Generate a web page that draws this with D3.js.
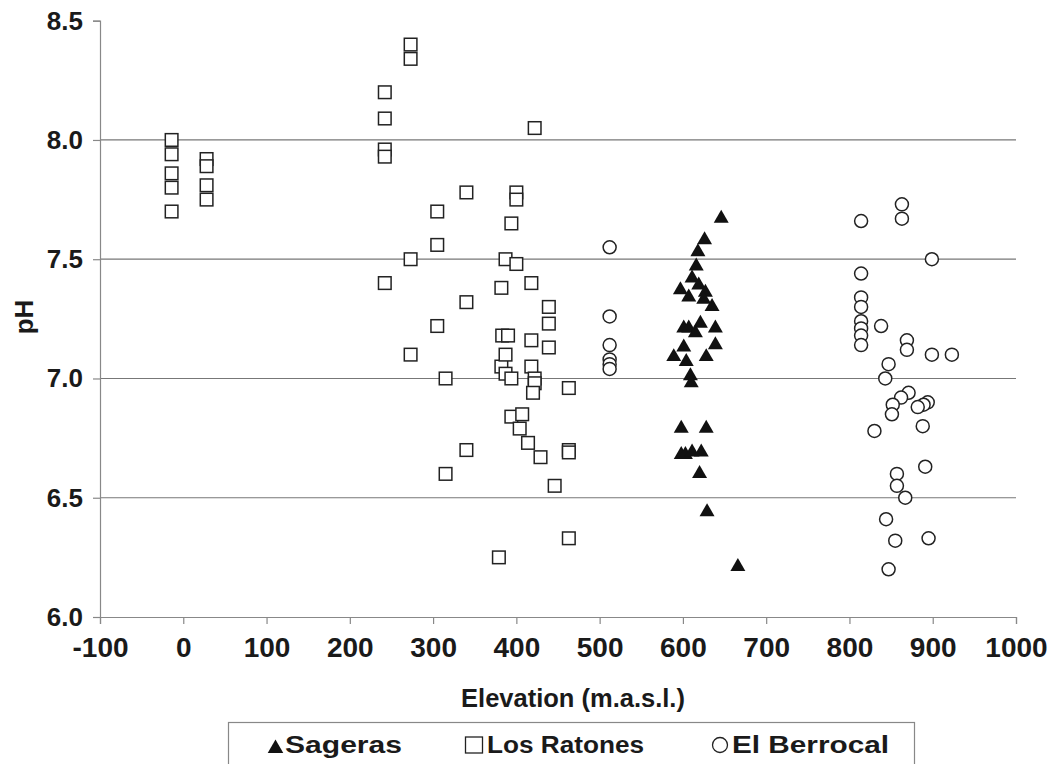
<!DOCTYPE html>
<html>
<head>
<meta charset="utf-8">
<script src="https://cdn.jsdelivr.net/npm/d3@7/dist/d3.min.js"></script>
<style>
  body { margin: 0; background: #fff; }
  text { font-family: "Liberation Sans", Arial, sans-serif; font-weight: bold; fill: #1a1a1a; }
</style>
</head>
<body>
<div id="chart"></div>
<script>
// data: [elevation, pH]
const sageras = [
    [646, 7.68], [626, 7.59], [618, 7.54], [616, 7.48], [611, 7.43], [619, 7.40],
    [597, 7.38], [627, 7.37], [607, 7.35], [625, 7.34], [635, 7.31], [601, 7.22],
    [607, 7.22], [621, 7.24], [639, 7.22], [615, 7.20], [639, 7.15], [601, 7.14],
    [589, 7.10], [604, 7.08], [628, 7.10], [609, 7.02], [610, 6.99], [598, 6.80],
    [628, 6.80], [598, 6.69], [603, 6.69], [611, 6.70], [622, 6.70], [620, 6.61],
    [629, 6.45], [666, 6.22]
];
const losRatones = [
    [-14, 8.00], [-14, 7.94], [-14, 7.86], [-14, 7.80], [-14, 7.70],
    [28, 7.92], [28, 7.89], [28, 7.81], [28, 7.75],
    [242, 8.20], [242, 8.09], [242, 7.96], [242, 7.93], [242, 7.40],
    [273, 8.40], [273, 8.34], [273, 7.50], [273, 7.10],
    [305, 7.70], [305, 7.56], [305, 7.22],
    [315, 7.00], [315, 6.60],
    [340, 7.78], [340, 7.32], [340, 6.70],
    [382, 7.38], [382, 7.05], [379, 6.25],
    [383, 7.18], [390, 7.18],
    [387, 7.50], [387, 7.10], [387, 7.02],
    [394, 7.65], [394, 7.00], [394, 6.84],
    [400, 7.78], [400, 7.75], [400, 7.48],
    [407, 6.85], [404, 6.79], [414, 6.73],
    [418, 7.40], [418, 7.16], [418, 7.05],
    [422, 8.05], [422, 7.00], [422, 6.98], [420, 6.94],
    [429, 6.67],
    [439, 7.30], [439, 7.23], [439, 7.13],
    [446, 6.55],
    [463, 6.96], [463, 6.70], [463, 6.69], [463, 6.33]
];
const elBerrocal = [
    [512, 7.55], [512, 7.26], [512, 7.14], [512, 7.08], [512, 7.06], [512, 7.04],
    [814, 7.66], [814, 7.44], [814, 7.34], [814, 7.30], [814, 7.24], [814, 7.21],
    [814, 7.18], [814, 7.14],
    [863, 7.73], [863, 7.67], [899, 7.50], [838, 7.22], [869, 7.16], [869, 7.12],
    [899, 7.10], [923, 7.10], [847, 7.06], [843, 7.00], [871, 6.94], [862, 6.92],
    [852, 6.89], [851, 6.85], [894, 6.90], [889, 6.89], [882, 6.88], [830, 6.78],
    [888, 6.80], [891, 6.63], [857, 6.60], [857, 6.55], [867, 6.50], [844, 6.41],
    [855, 6.32], [895, 6.33], [847, 6.20]
];
const xTicks = [-100, 0, 100, 200, 300, 400, 500, 600, 700, 800, 900, 1000];
const yTicks = [6.0, 6.5, 7.0, 7.5, 8.0, 8.5];
const seriesNames = ['Sageras', 'Los Ratones', 'El Berrocal'];

// size
const width = 1053,
    height = 764;

const svg = d3.select('#chart')
    .append('svg')
    .attr('width', width)
    .attr('height', height);

const x = d3.scaleLinear().domain([-100, 1000]).range([100, 1016]);
const y = d3.scaleLinear().domain([6, 8.5]).range([617, 20.7]);

// gridlines
svg.append('g')
    .selectAll('line')
    .data(yTicks.filter(d => d > 6 && d < 8.5))
    .enter()
    .append('line')
    .attr('x1', x(-100))
    .attr('x2', x(1000))
    .attr('y1', d => y(d))
    .attr('y2', d => y(d))
    .attr('stroke', '#777')
    .attr('stroke-width', 1.2);

// axes
const xAxis = svg.append('g')
    .attr('transform', `translate(0,${y(6)})`)
    .call(d3.axisBottom(x).tickValues(xTicks).tickSize(7).tickPadding(13).tickFormat(d => String(d)));
const yAxis = svg.append('g')
    .attr('transform', `translate(${x(-100)},0)`)
    .call(d3.axisLeft(y).tickValues(yTicks).tickSize(7).tickPadding(10).tickFormat(d3.format('.1f')));

[xAxis, yAxis].forEach(a => {
    a.select('.domain').attr('stroke', '#888').attr('stroke-width', 1.2);
    a.selectAll('.tick line').attr('stroke', '#888').attr('stroke-width', 1.2);
    a.selectAll('.tick text').attr('fill', '#1a1a1a');
});
xAxis.selectAll('.tick text').style('font-size', '28px');
yAxis.selectAll('.tick text').style('font-size', '26px');

// axis titles
svg.append('text')
    .attr('x', 573)
    .attr('y', 707)
    .attr('text-anchor', 'middle')
    .style('font-size', '25.5px')
    .text('Elevation (m.a.s.l.)');

svg.append('text')
    .attr('transform', 'translate(33,317) rotate(-90)')
    .attr('text-anchor', 'middle')
    .style('font-size', '26px')
    .text('pH');

// markers
const triSize = 97;
const triOff = Math.sqrt(triSize / (3 * Math.sqrt(3))) / 2; // bbox centre offset

svg.append('g')
    .selectAll('path')
    .data(sageras)
    .enter()
    .append('path')
    .attr('d', d3.symbol().type(d3.symbolTriangle).size(triSize))
    .attr('transform', d => `translate(${x(d[0])},${y(d[1]) + triOff})`)
    .attr('fill', '#111');

svg.append('g')
    .selectAll('rect')
    .data(losRatones)
    .enter()
    .append('rect')
    .attr('x', d => x(d[0]) - 6.3)
    .attr('y', d => y(d[1]) - 6.3)
    .attr('width', 12.6)
    .attr('height', 12.6)
    .attr('fill', '#fff')
    .attr('stroke', '#222')
    .attr('stroke-width', 1.5);

svg.append('g')
    .selectAll('circle')
    .data(elBerrocal)
    .enter()
    .append('circle')
    .attr('cx', d => x(d[0]))
    .attr('cy', d => y(d[1]))
    .attr('r', 6.5)
    .attr('fill', '#fff')
    .attr('stroke', '#222')
    .attr('stroke-width', 1.5);

// legend
const legend = svg.append('g');
legend.append('rect')
    .attr('x', 228.5)
    .attr('y', 722.5)
    .attr('width', 686)
    .attr('height', 60)
    .attr('fill', '#fff')
    .attr('stroke', '#888')
    .attr('stroke-width', 1.2);

// symbol centre x, text start, text width
const legendX = [275.5, 474, 720];
const legendTextX = [285, 487, 732];
const legendTextW = [117, 157, 157];
const baseY = 753;

const items = legend.selectAll('.item')
    .data(seriesNames)
    .enter()
    .append('g')
    .attr('class', 'item');

items.each(function (d, i) {
    const g = d3.select(this);
    if (i === 0) {
        g.append('path')
            .attr('d', d3.symbol().type(d3.symbolTriangle).size(105))
            .attr('transform', `translate(${legendX[i]},${baseY - 4.5})`)
            .attr('fill', '#111');
    } else if (i === 1) {
        g.append('rect')
            .attr('x', legendX[i] - 8.5).attr('y', baseY - 16)
            .attr('width', 17).attr('height', 16)
            .attr('fill', '#fff').attr('stroke', '#222').attr('stroke-width', 1.3);
    } else {
        g.append('circle')
            .attr('cx', legendX[i]).attr('cy', baseY - 8)
            .attr('r', 7.5)
            .attr('fill', '#fff').attr('stroke', '#222').attr('stroke-width', 1.3);
    }
    g.append('text')
        .attr('x', legendTextX[i])
        .attr('y', baseY)
        .attr('textLength', legendTextW[i])
        .attr('lengthAdjust', 'spacingAndGlyphs')
        .style('font-size', '23px')
        .text(d);
});
</script>
</body>
</html>
